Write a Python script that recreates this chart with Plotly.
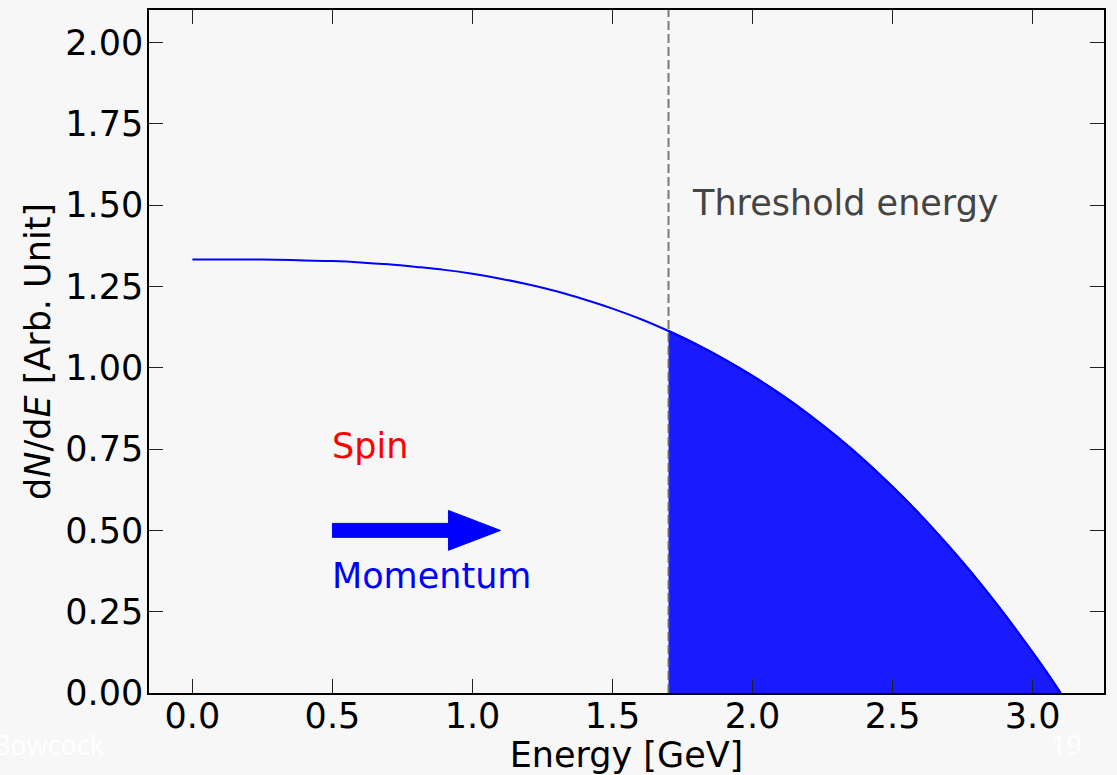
import plotly.graph_objects as go

# Data
energy = [0.0, 0.1, 0.2, 0.3, 0.4, 0.5, 0.6, 0.7, 0.8, 0.9, 1.0, 1.1, 1.2, 1.3, 1.4, 1.5, 1.6,
          1.7, 1.8, 1.9, 2.0, 2.1, 2.2, 2.3, 2.4, 2.5, 2.6, 2.7, 2.8, 2.9, 2.95, 3.0, 3.05, 3.1]
dnde = [1.333, 1.333, 1.333, 1.332, 1.330, 1.328, 1.324, 1.318, 1.310, 1.301, 1.289, 1.274, 1.256,
        1.235, 1.210, 1.182, 1.150, 1.113, 1.072, 1.026, 0.975, 0.919, 0.857, 0.789, 0.715, 0.634,
        0.547, 0.452, 0.351, 0.242, 0.184, 0.125, 0.064, 0.0]
threshold = 1.7
x_ticks = [0.0, 0.5, 1.0, 1.5, 2.0, 2.5, 3.0]
y_ticks = [0.0, 0.25, 0.5, 0.75, 1.0, 1.25, 1.5, 1.75, 2.0]
arrow_start = (0.5, 0.5)
arrow_end = (1.1, 0.5)

FONT = "DejaVu Sans"
BG = "#f7f7f7"
FS = 35

fig = go.Figure()

# filled region above threshold
fe = [e for e in energy if e >= threshold]
fv = [v for e, v in zip(energy, dnde) if e >= threshold]
fig.add_trace(go.Scatter(x=fe, y=fv, mode="lines", fill="tozeroy",
                         fillcolor="rgb(26,26,255)", line=dict(color="rgb(0,0,255)", width=2, shape="spline"),
                         hoverinfo="skip", showlegend=False))
# full curve
fig.add_trace(go.Scatter(x=energy, y=dnde, mode="lines",
                         line=dict(color="rgb(0,0,255)", width=2, shape="spline"),
                         showlegend=False))

# threshold dashed line
fig.add_shape(type="line", x0=threshold, x1=threshold, y0=0, y1=1, yref="paper", xref="x",
              line=dict(color="rgba(100,100,100,0.85)", width=2, dash="9px,4px"))

# arrow polygon (pixel-based sizes converted to data units)
px_per_x = (1104 - 149) / (3.255 + 0.155)
px_per_y = (693 - 8) / 2.1
shaft_h = 7 / px_per_y
head_h = 20 / px_per_y
head_l = 52 / px_per_x
x0, y0 = arrow_start
x1, _ = arrow_end
xb = x1 - head_l
fig.add_trace(go.Scatter(
    x=[x0, xb, xb, x1, xb, xb, x0, x0],
    y=[y0 - shaft_h, y0 - shaft_h, y0 - head_h, y0, y0 + head_h, y0 + shaft_h, y0 + shaft_h, y0 - shaft_h],
    mode="lines", fill="toself", fillcolor="rgb(0,0,255)", line=dict(color="rgb(0,0,255)", width=1),
    hoverinfo="skip", showlegend=False))

ann_font = dict(family=FONT, size=FS)
fig.add_annotation(x=0.49, y=0.76, text="Spin", showarrow=False, xanchor="left", yanchor="middle",
                   font=dict(ann_font, color="red"))
fig.add_annotation(x=0.49, y=0.359, text="Momentum", showarrow=False, xanchor="left", yanchor="middle",
                   font=dict(ann_font, color="blue"))
fig.add_annotation(x=1.775, y=1.506, text="Threshold energy", showarrow=False, xanchor="left", yanchor="middle",
                   font=dict(ann_font, color="#444444"))

# footer remnants
fig.add_annotation(xref="paper", yref="paper", x=-149 / 955 + 106 / 955, y=-(745 - 693) / 685,
                   text="Bowcock", showarrow=False, xanchor="right", yanchor="middle",
                   font=dict(family="Open Sans", size=27, color="white"))
fig.add_annotation(xref="paper", yref="paper", x=(1066 - 149) / 955, y=-(745 - 693) / 685,
                   text="19", showarrow=False, xanchor="center", yanchor="middle",
                   font=dict(family="Open Sans", size=27, color="white"))

axis_common = dict(showline=True, linecolor="black", linewidth=1.5, mirror="allticks",
                   ticks="inside", ticklen=14, tickwidth=1, tickcolor="#222222",
                   showgrid=False, zeroline=False,
                   tickfont=dict(family=FONT, size=FS, color="black"))

fig.update_layout(
    width=1117, height=775,
    margin=dict(l=149, r=13, t=8, b=82),
    paper_bgcolor=BG, plot_bgcolor=BG,
    xaxis=dict(axis_common, range=[-0.155, 3.255], tickvals=x_ticks,
               ticktext=[f"{v:.1f}" for v in x_ticks], ticklabelstandoff=-9,
               title=dict(text="Energy [GeV]", font=dict(family=FONT, size=FS, color="black"), standoff=0)),
    yaxis=dict(axis_common, range=[0, 2.1], tickvals=y_ticks,
               ticktext=[f"{v:.2f}" for v in y_ticks], ticklabelstandoff=-3,
               title=dict(text="d<i>N</i>/d<i>E</i> [Arb. Unit]", font=dict(family=FONT, size=FS, color="black"),
                          standoff=4)),
    showlegend=False,
)

fig.write_html("out.html")
